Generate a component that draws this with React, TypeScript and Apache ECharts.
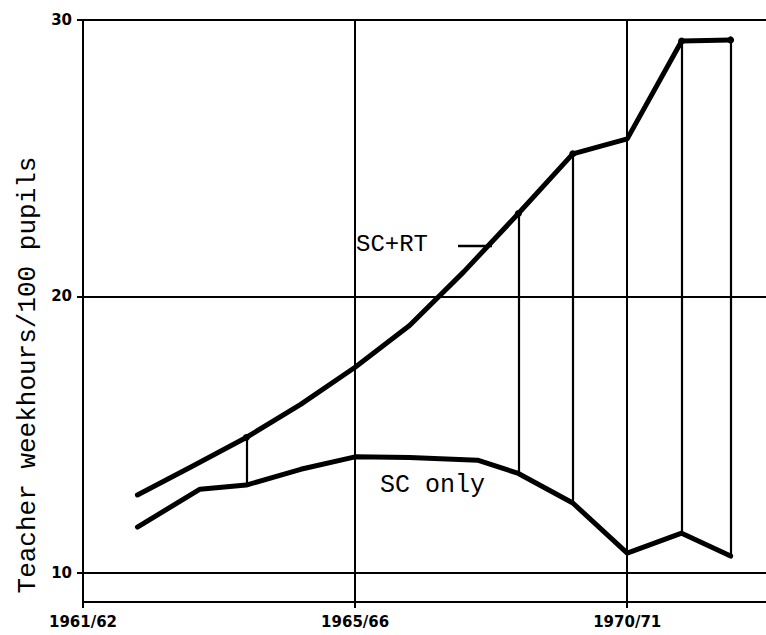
import React, { useEffect, useRef } from "react";
import * as echarts from "echarts";

// x positions: school years counted from the 1961/62 origin of the axis
const xTickValues = [0, 5, 10];
const xTickLabels = ["1961/62", "1965/66", "1970/71"];
const yTickValues = [10, 20, 30];

const scrtX = [1, 2, 3, 4, 5, 6, 7, 8, 9, 10, 11, 11.9];
const scrtValues = [12.82, 13.85, 14.9, 16.1, 17.44, 18.95, 20.9, 23.0, 25.16, 25.7, 29.24, 29.28];

const scOnlyX = [1, 2.15, 3, 4, 5, 6, 7.25, 8, 9, 10, 11, 11.9];
const scOnlyValues = [11.66, 13.03, 13.18, 13.75, 14.2, 14.18, 14.08, 13.6, 12.53, 10.72, 11.44, 10.61];

// years at which a vertical connector joins the two curves
const connectorX = [3, 8, 9, 11, 11.9];

const gridY = [10, 20, 30];
const gridX = [5, 10];

const yAxisTitle = "Teacher weekhours/100 pupils";

export default function App() {
  const ref = useRef<HTMLDivElement>(null);
  useEffect(() => {
    if (!ref.current) return;
    const chart = echarts.init(ref.current, null, { renderer: "svg" });
    const valAt = (xs: number[], vs: number[], x: number) => vs[xs.indexOf(x)];
    const connectors = connectorX.map((x) => [
      { coord: [x, valAt(scrtX, scrtValues, x)] },
      { coord: [x, valAt(scOnlyX, scOnlyValues, x)] },
    ]);
    const tickFont = "'DejaVu Sans', sans-serif";
    const mono = "'Liberation Mono', 'DejaVu Sans Mono', monospace";
    const option: any = {
      animation: false,
      backgroundColor: "#ffffff",
      grid: { left: 83, right: 0, top: 20, bottom: 33 },
      xAxis: {
        type: "value",
        min: 0,
        max: 12.55,
        axisLine: { show: true, lineStyle: { color: "#000", width: 2 } },
        axisTick: { show: true, customValues: xTickValues, length: 6, lineStyle: { color: "#000", width: 2 } },
        axisLabel: {
          customValues: xTickValues,
          formatter: (v: number) => xTickLabels[xTickValues.indexOf(v)] ?? "",
          color: "#000",
          fontWeight: "bold",
          fontSize: 15,
          fontFamily: tickFont,
          margin: 12,
        },
        splitLine: { show: false },
      },
      yAxis: {
        type: "value",
        min: 8.95,
        max: 30,
        axisLine: { show: true, lineStyle: { color: "#000", width: 2 } },
        axisTick: { show: true, customValues: yTickValues, length: 6, lineStyle: { color: "#000", width: 2 } },
        axisLabel: {
          customValues: yTickValues,
          color: "#000",
          fontWeight: "bold",
          fontSize: 15,
          fontFamily: tickFont,
          margin: 11,
        },
        splitLine: { show: false },
      },
      series: [
        {
          type: "line",
          name: "grid",
          data: [],
          silent: true,
          markLine: {
            silent: true,
            symbol: "none",
            label: { show: false },
            lineStyle: { color: "#000", width: 2, type: "solid" },
            data: [
              ...gridY.map((y) => ({ yAxis: y })),
              ...gridX.map((x) => ({ xAxis: x })),
            ],
          },
        },
        {
          type: "line",
          name: "SC+RT",
          data: scrtX.map((x, i) => ({
            value: [x, scrtValues[i]],
            symbol: connectorX.includes(x) ? "circle" : "none",
            symbolSize: 7,
          })),
          showSymbol: true,
          itemStyle: { color: "#000" },
          lineStyle: { color: "#000", width: 5, join: "round", cap: "round" },
          markLine: {
            silent: true,
            symbol: "none",
            label: { show: false },
            lineStyle: { color: "#000", width: 2.2, type: "solid" },
            data: connectors,
          },
        },
        {
          type: "line",
          name: "SC only",
          data: scOnlyX.map((x, i) => [x, scOnlyValues[i]]),
          showSymbol: false,
          lineStyle: { color: "#000", width: 5, join: "round", cap: "round" },
        },
      ],
      graphic: [
        {
          type: "text",
          x: 28,
          y: 375,
          rotation: Math.PI / 2,
          style: {
            text: yAxisTitle,
            fill: "#000",
            font: `26px ${mono}`,
            textAlign: "center",
            textVerticalAlign: "middle",
          },
        },
        {
          type: "text",
          left: 356,
          top: 232,
          style: { text: "SC+RT", fill: "#000", font: `24px ${mono}` },
        },
        {
          type: "line",
          shape: { x1: 458, y1: 246, x2: 492, y2: 246 },
          style: { stroke: "#000", lineWidth: 2.5 },
        },
        {
          type: "text",
          left: 380,
          top: 473,
          style: { text: "SC only", fill: "#000", font: `25px ${mono}` },
        },
      ],
    };
    chart.setOption(option);
    return () => chart.dispose();
  }, []);
  return (
    <div
      ref={ref}
      style={{ position: "fixed", left: 0, top: 0, width: 766, height: 635, background: "#fff" }}
    />
  );
}
